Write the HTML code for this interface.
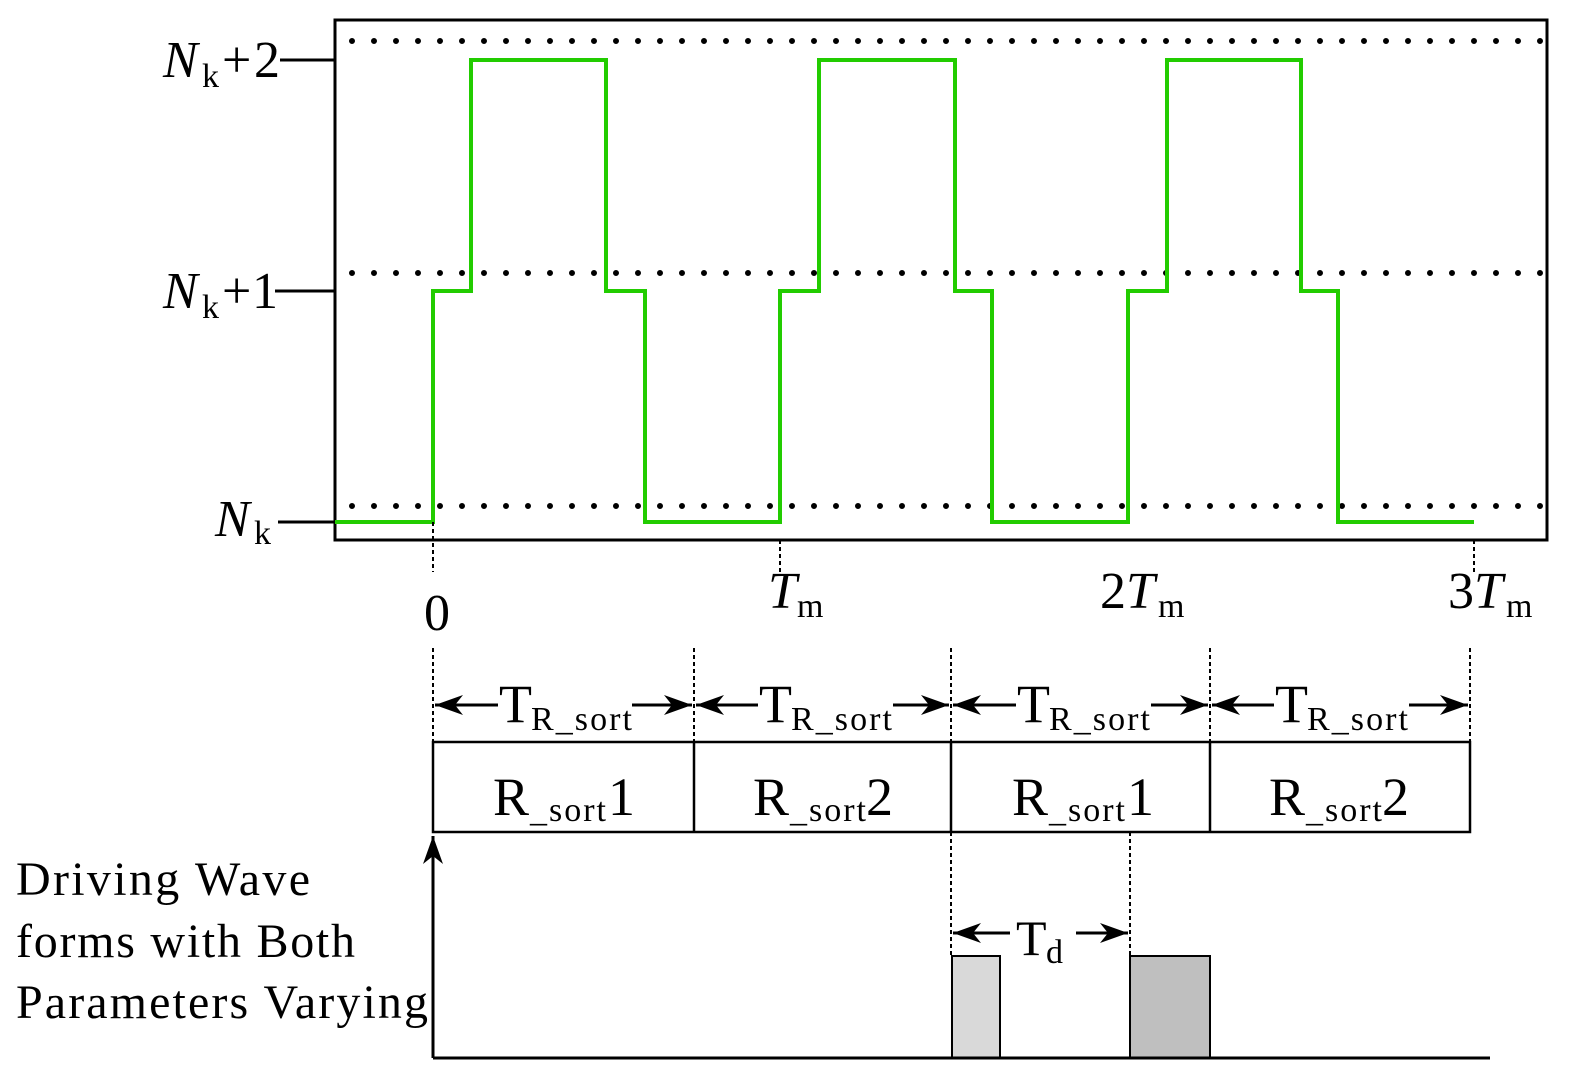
<!DOCTYPE html>
<html><head><meta charset="utf-8"><style>html,body{margin:0;padding:0;background:#fff;overflow:hidden}svg{display:block}text{font-family:"Liberation Serif",serif;fill:#000}</style></head><body>
<svg width="1586" height="1089" viewBox="0 0 1586 1089" xmlns="http://www.w3.org/2000/svg">
<defs>
<marker id="b" markerWidth="28" markerHeight="20" refX="28" refY="10" orient="auto-start-reverse" markerUnits="userSpaceOnUse"><path d="M0,0L28,10L0,20L8,10z" fill="#000"/></marker></defs>
<g stroke="#000" stroke-width="6" stroke-linecap="round" stroke-dasharray="0 22">
<line x1="352" y1="41" x2="1547" y2="41"/><line x1="352" y1="273" x2="1547" y2="273"/><line x1="352" y1="506" x2="1547" y2="506"/></g>
<rect x="335" y="20" width="1212" height="520" fill="none" stroke="#000" stroke-width="3"/>
<g stroke="#000" stroke-width="3"><line x1="280" y1="60" x2="335" y2="60"/><line x1="275" y1="291" x2="335" y2="291"/><line x1="278" y1="522" x2="335" y2="522"/></g>
<polyline fill="none" stroke="#22cc00" stroke-width="4" points="335,522 433,522 433,291 471,291 471,60 606,60 606,291 645,291 645,522 780,522 780,291 819,291 819,60 955,60 955,291 992,291 992,522 1128,522 1128,291 1167,291 1167,60 1301,60 1301,291 1338,291 1338,522 1474,522"/>
<g stroke="#000" stroke-width="2" stroke-dasharray="4 3"><line x1="433" y1="522" x2="433" y2="572"/><line x1="780" y1="540" x2="780" y2="572"/><line x1="1474" y1="540" x2="1474" y2="572"/>
<line x1="433" y1="648" x2="433" y2="742"/><line x1="694" y1="648" x2="694" y2="742"/><line x1="951" y1="648" x2="951" y2="742"/><line x1="1210" y1="648" x2="1210" y2="742"/><line x1="1470" y1="648" x2="1470" y2="742"/>
<line x1="951" y1="832" x2="951" y2="956"/><line x1="1130" y1="832" x2="1130" y2="956"/></g>
<g font-size="52"><text x="163" y="77" font-style="italic">N</text><text x="202" y="87" font-size="34">k</text><text x="222" y="77" textLength="58">+2</text>
<text x="163" y="308" font-style="italic">N</text><text x="202" y="318" font-size="34">k</text><text x="222" y="308" textLength="56">+1</text>
<text x="215" y="536" font-style="italic">N</text><text x="254" y="544" font-size="34">k</text>
<text x="424" y="630">0</text>
<text x="768" y="608" font-style="italic">T</text><text x="797" y="617" font-size="34">m</text>
<text x="1100" y="608">2<tspan font-style="italic">T</tspan></text><text x="1158" y="617" font-size="34">m</text>
<text x="1448" y="608">3<tspan font-style="italic">T</tspan></text><text x="1506" y="617" font-size="34">m</text></g>
<g stroke="#000" stroke-width="3">
<line x1="498" y1="705" x2="435" y2="705" marker-end="url(#b)"/><line x1="632" y1="705" x2="692" y2="705" marker-end="url(#b)"/>
<line x1="758" y1="705" x2="696" y2="705" marker-end="url(#b)"/><line x1="893" y1="705" x2="949" y2="705" marker-end="url(#b)"/>
<line x1="1016" y1="705" x2="953" y2="705" marker-end="url(#b)"/><line x1="1151" y1="705" x2="1208" y2="705" marker-end="url(#b)"/>
<line x1="1274" y1="705" x2="1212" y2="705" marker-end="url(#b)"/><line x1="1409" y1="705" x2="1468" y2="705" marker-end="url(#b)"/>
<line x1="1010" y1="933" x2="953" y2="933" marker-end="url(#b)"/><line x1="1076" y1="933" x2="1128" y2="933" marker-end="url(#b)"/></g>
<g font-size="54"><text x="499" y="722">T</text><text x="531" y="730" font-size="34" textLength="101">R_sort</text>
<text x="759" y="722">T</text><text x="791" y="730" font-size="34" textLength="101">R_sort</text>
<text x="1017" y="722">T</text><text x="1049" y="730" font-size="34" textLength="101">R_sort</text>
<text x="1275" y="722">T</text><text x="1307" y="730" font-size="34" textLength="101">R_sort</text>
<text x="1016" y="955" font-size="50">T</text><text x="1046" y="963" font-size="34">d</text></g>
<rect x="433" y="742" width="1037" height="90" fill="none" stroke="#000" stroke-width="2.5"/>
<g stroke="#000" stroke-width="2.5"><line x1="694" y1="742" x2="694" y2="832"/><line x1="951" y1="742" x2="951" y2="832"/><line x1="1210" y1="742" x2="1210" y2="832"/></g>
<g font-size="54"><text x="493" y="815">R</text><text x="530" y="821" font-size="34" textLength="76">_sort</text><text x="608" y="815">1</text>
<text x="753" y="815">R</text><text x="790" y="821" font-size="34" textLength="76">_sort</text><text x="866" y="815">2</text>
<text x="1012" y="815">R</text><text x="1049" y="821" font-size="34" textLength="76">_sort</text><text x="1127" y="815">1</text>
<text x="1269" y="815">R</text><text x="1306" y="821" font-size="34" textLength="76">_sort</text><text x="1382" y="815">2</text></g>
<rect x="952" y="956" width="48" height="102" fill="#d9d9d9" stroke="#000" stroke-width="2"/>
<rect x="1130" y="956" width="80" height="102" fill="#bfbfbf" stroke="#000" stroke-width="2"/>
<line x1="433" y1="1058" x2="433" y2="836" stroke="#000" stroke-width="3" marker-end="url(#b)"/>
<line x1="433" y1="1058" x2="1490" y2="1058" stroke="#000" stroke-width="3"/>
<g font-size="48"><text x="16" y="895" textLength="294">Driving Wave</text><text x="16" y="957" textLength="339">forms with Both</text><text x="16" y="1018" textLength="412">Parameters Varying</text></g>
</svg>
</body></html>
